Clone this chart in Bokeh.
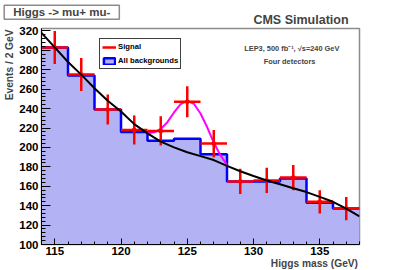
from math import pi

from bokeh.plotting import figure
from bokeh.models import (ColumnDataSource, Range1d, SingleIntervalTicker, Label,
                          Legend, LegendItem)
from bokeh.embed import file_html
from bokeh.resources import INLINE

# ---------------- data ----------------
bin_edges = [114, 116, 118, 120, 122, 124, 126, 128, 130, 132, 134, 136, 138]
background = [303, 274, 239, 216, 207, 209, 193, 165, 165, 168, 143, 137]

data_mass = [115, 117, 119, 121, 123, 125, 127, 129, 131, 133, 135, 137]
data_events = [303, 275, 239, 218, 217, 247, 204, 165, 166, 169, 144, 137]
data_err = [17, 17, 15.5, 15, 15, 16, 14, 13, 13, 13, 12, 12]

fit_mass = [114, 115, 116, 117, 118, 119, 120, 121, 122, 123, 124, 125, 126,
            127, 128, 129, 130, 131, 132, 133, 134, 135, 136, 137, 138]
fit_events = [318, 303, 288, 275, 261, 248, 237, 224, 214.5, 206, 200, 195, 191,
              187, 181, 175.5, 170.5, 166, 162, 158, 154, 149, 144, 137, 129]

sig_mass = [122, 122.5, 123, 123.5, 124, 124.5, 125, 125.5, 126, 126.5, 127, 127.5, 128]
sig_events = [214.5, 215.5, 219, 226, 236, 244.5, 248, 245, 235, 221, 205, 192, 182]

X0, X1 = 114, 138
Y0, Y1 = 100, 322.5

FONT = "Liberation Sans"
BLUE = "#0000ff"
RED = "#ff0000"
FILL = "#b2b2f5"   # average tone of ROOT's blue/white checker fill
NAN = float("nan")

# ---------------- figure ----------------
W, H = 399, 270
FL, FR, FT, FB = 41, 359, 26, 244   # frame edges in page pixels
p = figure(width=W, height=H, output_backend="svg", toolbar_location=None,
           x_range=Range1d(X0, X1), y_range=Range1d(Y0, Y1),
           min_border_left=FL, min_border_right=W - FR,
           min_border_top=FT, min_border_bottom=H - FB)
p.background_fill_color = "white"
p.border_fill_color = "white"
p.outline_line_color = "#8c8c8c"
p.outline_line_width = 1.5
p.xgrid.visible = False
p.ygrid.visible = False


def dx(px):
    return X0 + (px - FL) * (X1 - X0) / (FR - FL)


def dy(py):
    return Y0 + (FB - py) * (Y1 - Y0) / (FB - FT)


# histogram fill + step outline
hist_y = background + [background[-1]]
hist_src = ColumnDataSource(dict(x=bin_edges, y2=hist_y, y1=[0] * len(bin_edges)))
p.varea_step(x="x", y1="y1", y2="y2", source=hist_src, step_mode="after", fill_color=FILL)
p.step(x="x", y="y2", source=hist_src, mode="after", line_color=BLUE, line_width=2.5)

# signal + background curve (magenta)
p.line(sig_mass, sig_events, line_color="#ff00ff", line_width=2)

# pseudo-data with error bars
dsrc = ColumnDataSource(dict(
    x=data_mass, y=data_events, lo=bin_edges[:-1], hi=bin_edges[1:],
    ylo=[v - e for v, e in zip(data_events, data_err)],
    yhi=[v + e for v, e in zip(data_events, data_err)]))
sig_r = p.segment(x0="x", y0="ylo", x1="x", y1="yhi", source=dsrc,
                  line_color=RED, line_width=2.5)
p.segment(x0="lo", y0="y", x1="hi", y1="y", source=dsrc, line_color=RED, line_width=2.5)
p.scatter(x="x", y="y", source=dsrc, size=4, color=RED)

# background fit (black)
p.line(fit_mass, fit_events, line_color="black", line_width=2)

# legend-only glyph for "All backgrounds" (one undrawable row, so only the legend shows it)
bkg_leg = p.quad(left=[NAN], right=[NAN], top=[NAN], bottom=[NAN], fill_color=FILL,
                 line_color=BLUE, line_width=2.5)

legend = Legend(items=[LegendItem(label="Signal", renderers=[sig_r]),
                       LegendItem(label="All backgrounds", renderers=[bkg_leg])],
                location=(99 - FL, FB - 69), margin=0, padding=2, spacing=3,
                glyph_width=14, glyph_height=8, label_height=11, label_standoff=2,
                label_text_font=FONT, label_text_font_style="bold",
                label_text_font_size="7.7px", label_text_color="black",
                border_line_color="#404040", border_line_width=1, border_line_alpha=1,
                background_fill_color="white", background_fill_alpha=1)
p.add_layout(legend)

# ---------------- axes ----------------
for ax in (p.xaxis, p.yaxis):
    ax.axis_line_color = "black"
    ax.axis_line_width = 1
    ax.major_tick_line_color = "black"
    ax.minor_tick_line_color = "black"
    ax.major_tick_out = 0
    ax.minor_tick_out = 0
    ax.major_label_text_font = FONT
    ax.major_label_text_font_style = "bold"
    ax.major_label_text_font_size = "11.5px"
    ax.major_label_text_color = "black"

p.xaxis.ticker = SingleIntervalTicker(interval=5, num_minor_ticks=5)
p.yaxis.ticker = SingleIntervalTicker(interval=20, num_minor_ticks=5)
p.xaxis.major_tick_in = 6
p.xaxis.minor_tick_in = 3
p.yaxis.major_tick_in = 9
p.yaxis.minor_tick_in = 4
p.xaxis.major_label_standoff = 2
p.yaxis.major_label_standoff = 3

# ---------------- texts ----------------
# texts outside the frame go into side panels (annotations in the centre are clipped)
p.add_layout(Label(x=dx(8.5), y=dy(27), text="Events / 2 GeV", angle=pi / 2,
                   text_align="right", text_baseline="middle",
                   text_font=FONT, text_font_style="bold", text_font_size="10.2px"), "left")
p.add_layout(Label(x=dx(357.5), y=dy(263.5), text="Higgs mass (GeV)",
                   text_align="right", text_baseline="alphabetic",
                   text_font=FONT, text_font_style="bold", text_font_size="10.2px"), "below")
# padding is (horizontal, vertical); the box starts at x and the text sits 9px inside it
p.add_layout(Label(x=dx(3.7), y=dy(9.7), text="Higgs -> mu+ mu-",
                   text_align="left", text_baseline="middle",
                   text_font=FONT, text_font_style="bold", text_font_size="11.5px",
                   background_fill_color="white", border_line_color="#8c8c8c",
                   border_line_width=1.5, padding=(9, 1)), "above")
p.add_layout(Label(x=dx(300.5), y=dy(17.3), text="CMS Simulation",
                   text_align="center", text_baseline="middle",
                   text_font=FONT, text_font_style="bold", text_font_size="12.5px"), "above")
p.add_layout(Label(x=dx(291.3), y=dy(46), text="LEP3, 500 fb\u207b\u00b9, \u221as=240 GeV",
                   text_align="center", text_baseline="middle",
                   text_font=FONT, text_font_style="bold", text_font_size="7.4px"))
p.add_layout(Label(x=dx(289), y=dy(59.3), text="Four detectors",
                   text_align="center", text_baseline="middle",
                   text_font=FONT, text_font_style="bold", text_font_size="7.4px"))

open("out.html", "w").write(file_html(p, INLINE))
